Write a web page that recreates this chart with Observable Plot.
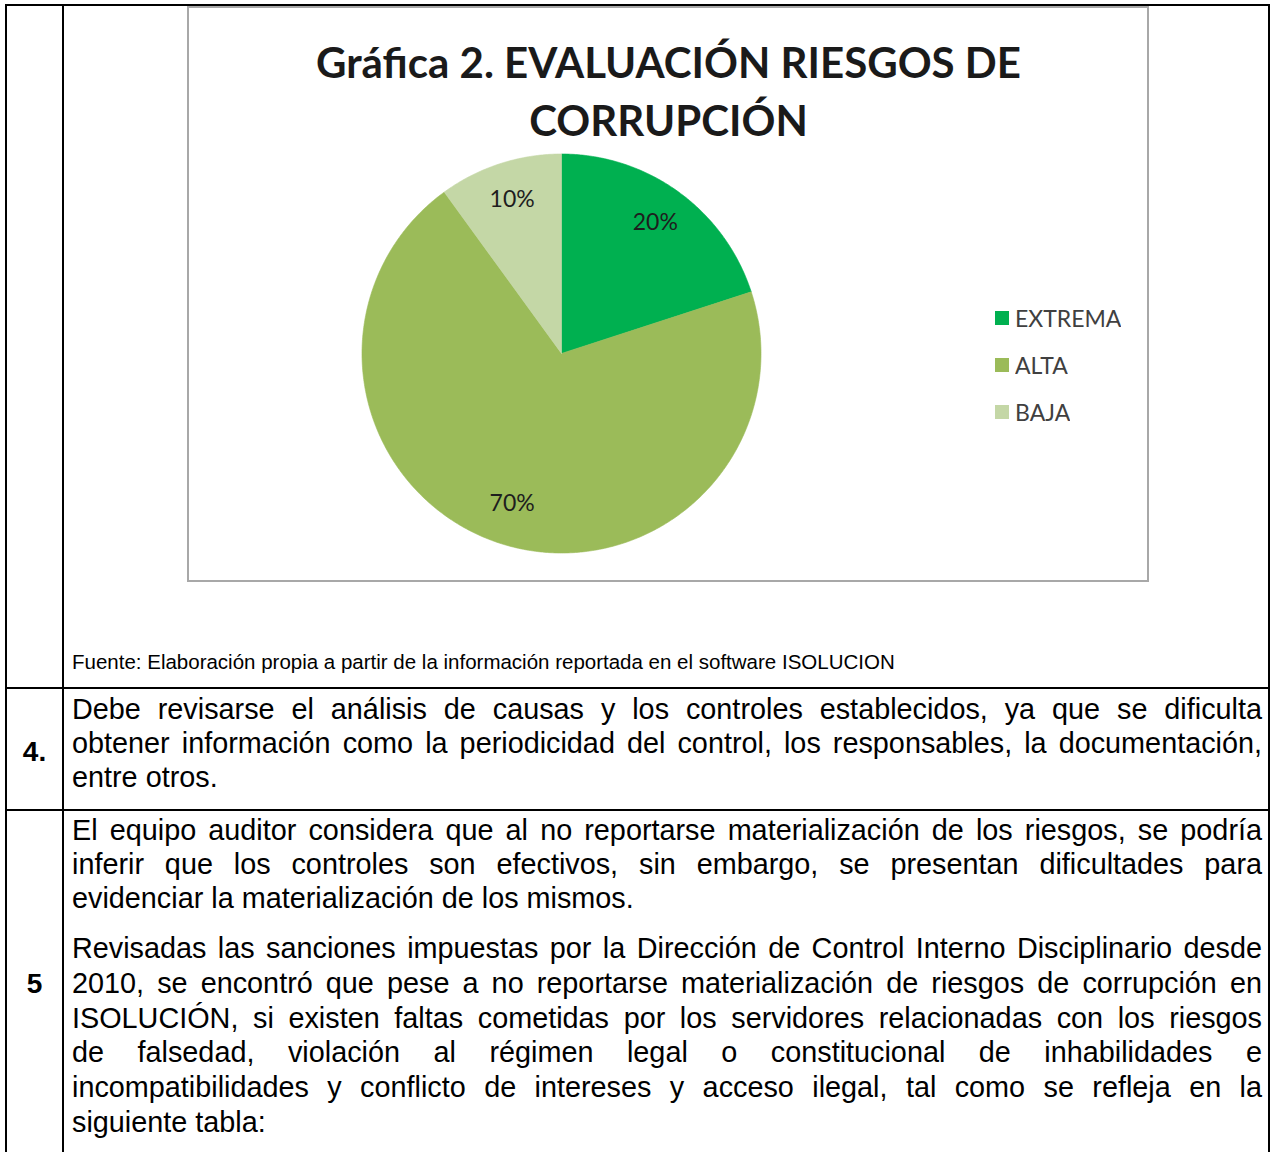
<!DOCTYPE html>
<html>
<head>
<meta charset="utf-8">
<script src="https://cdn.jsdelivr.net/npm/d3@7"></script>
<script src="https://cdn.jsdelivr.net/npm/@observablehq/plot@0.6"></script>
<style>
  html, body { margin: 0; padding: 0; background: #fff; }
  #page { position: relative; width: 1272px; height: 1152px; overflow: hidden; background: #fff; }
  .rule { position: absolute; background: #000; }
  #chartbox { position: absolute; left: 187px; top: 6px; width: 962px; height: 576px; box-sizing: border-box;
    border: 2px solid #a8a8a8; background: #fff; }
  #chartbox svg { display: block; }
  .body { position: absolute; font-family: "Liberation Sans", Arial, sans-serif; font-size: 28.8px; color: #000; }
  .ln { white-space: nowrap; text-align: justify; text-align-last: justify; }
  .ln.last { text-align: left; text-align-last: left; }
  .num { position: absolute; left: 7px; width: 55px; text-align: center; font-family: "Liberation Sans", Arial, sans-serif;
    font-weight: bold; font-size: 28px; line-height: 34px; }
  #fuente { position: absolute; left: 72px; top: 650px; font-family: "Liberation Sans", Arial, sans-serif; font-size: 20.5px; line-height: 24px; }
  #legend { position: absolute; left: 995px; top: 294px; }
  .lg-swatches { font-family: Lato, sans-serif !important; font-size: 23px !important; color: #404040; margin: 0 !important; }
  .lg-swatch { height: 47px; padding-bottom: 0 !important; }
  .lg-swatch > svg { margin-right: 6px !important; }
</style>
</head>
<body>
<div id="page">
  <div class="rule" style="left:5px;top:4px;width:1265px;height:2px"></div>
  <div class="rule" style="left:5px;top:4px;width:2px;height:1148px"></div>
  <div class="rule" style="left:62px;top:4px;width:2px;height:1148px"></div>
  <div class="rule" style="left:1268px;top:4px;width:2px;height:1148px"></div>
  <div class="rule" style="left:5px;top:687px;width:1265px;height:2px"></div>
  <div class="rule" style="left:5px;top:809px;width:1265px;height:2px"></div>

  <div id="chartbox"></div>
  <div id="legend"></div>
  <div id="fuente"></div>

  <div class="num" style="top:735px">4.</div>
  <div class="body" id="row4" style="left:72px;top:692px;width:1190px;line-height:34px"></div>

  <div class="num" style="top:967px">5</div>
  <div class="body" id="row5a" style="left:72px;top:813px;width:1190px;line-height:34px"></div>
  <div class="body" id="row5b" style="left:72px;top:931px;width:1190px;line-height:34.8px"></div>
</div>
<script>
// ---- chart data ----
const categories = ["EXTREMA", "ALTA", "BAJA"];
const values = [20, 70, 10];
const colors = ["#00B050", "#9BBB59", "#C4D7A6"];
const titleLines = ["Gráfica 2. EVALUACIÓN RIESGOS DE", "CORRUPCIÓN"];
const sourceNote = "Fuente: Elaboración propia a partir de la información reportada en el software ISOLUCION";

// ---- document text ----
const row4Lines = [
  "Debe revisarse el análisis de causas y los controles establecidos, ya que se dificulta",
  "obtener información como la periodicidad del control, los responsables, la documentación,",
  "entre otros."
];
const row5aLines = [
  "El equipo auditor considera que al no reportarse materialización de los riesgos, se podría",
  "inferir que los controles son efectivos, sin embargo, se presentan dificultades para",
  "evidenciar la materialización de los mismos."
];
const row5bLines = [
  "Revisadas las sanciones impuestas por la Dirección de Control Interno Disciplinario desde",
  "2010, se encontró que pese a no reportarse materialización de riesgos de corrupción en",
  "ISOLUCIÓN, si existen faltas cometidas por los servidores relacionadas con los riesgos",
  "de falsedad, violación al régimen legal o constitucional de inhabilidades e",
  "incompatibilidades y conflicto de intereses y acceso ilegal, tal como se refleja en la",
  "siguiente tabla:"
];

function fillLines(id, lines) {
  const el = document.getElementById(id);
  lines.forEach((t, i) => {
    const d = document.createElement("div");
    d.className = "ln" + (i === lines.length - 1 ? " last" : "");
    d.textContent = t;
    el.appendChild(d);
  });
}
fillLines("row4", row4Lines);
fillLines("row5a", row5aLines);
fillLines("row5b", row5bLines);
document.getElementById("fuente").textContent = sourceNote;

// ---- pie geometry from data ----
const rows = categories.map((c, i) => ({cat: c, value: values[i]}));
const total = d3.sum(values);
const arcs = d3.pie().sort(null).value(d => d.value)(rows);
const wedgePts = arcs.flatMap(a => {
  const n = Math.max(2, Math.ceil((a.endAngle - a.startAngle) / (Math.PI / 360)));
  const pts = [{cat: a.data.cat, x: 0, y: 0}];
  for (let i = 0; i <= n; i++) {
    const t = a.startAngle + (a.endAngle - a.startAngle) * i / n;
    pts.push({cat: a.data.cat, x: Math.sin(t), y: Math.cos(t)});
  }
  pts.push({cat: a.data.cat, x: 0, y: 0});
  return pts;
});
const labelPts = arcs.map(a => {
  const m = (a.startAngle + a.endAngle) / 2;
  return {cat: a.data.cat, x: 0.8 * Math.sin(m), y: 0.8 * Math.cos(m), label: d3.format(".0%")(a.data.value / total)};
});

const W = 958, H = 572;
const cx = 372, cy = 345, R = 199.5;

const chart = Plot.plot({
  width: W, height: H,
  margin: 0,
  style: {fontFamily: "Lato, sans-serif", background: "#fff", overflow: "visible"},
  x: {type: "linear", domain: [-1, 1], range: [cx - R, cx + R], axis: null},
  y: {type: "linear", domain: [-1, 1], range: [cy + R, cy - R], axis: null},
  color: {type: "ordinal", domain: categories, range: colors},
  marks: [
    Plot.line(wedgePts, {x: "x", y: "y", z: "cat", fill: "cat", stroke: "cat", strokeWidth: 0.6, curve: "linear"}),
    Plot.text(labelPts, {x: "x", y: "y", text: "label", fontSize: 23, dy: -2, fill: "#1e1e1e"}),
    Plot.text([titleLines.join("\n")], {frameAnchor: "top", text: d => d, dy: 28, fontSize: 42, fontWeight: "bold",
      lineHeight: 1.38, fill: "#1a1a1a"})
  ]
});
document.getElementById("chartbox").appendChild(chart);

const legend = Plot.legend({
  color: {type: "ordinal", domain: categories, range: colors},
  legend: "swatches", columns: 1, swatchSize: 14, className: "lg"
});
document.getElementById("legend").appendChild(legend);
</script>
</body>
</html>
